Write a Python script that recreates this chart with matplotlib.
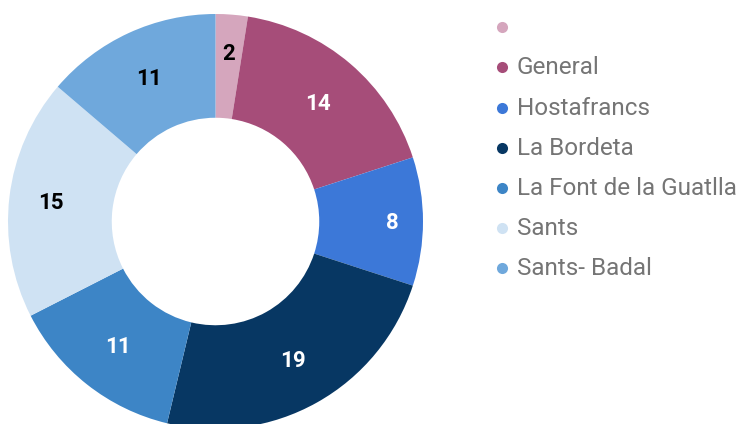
import matplotlib; matplotlib.use("Agg")
import matplotlib.pyplot as plt
import numpy as np

labels = ["", "General", "Hostafrancs", "La Bordeta", "La Font de la Guatlla", "Sants", "Sants- Badal"]
values = [2, 14, 8, 19, 11, 15, 11]
colors = ["#d5a6bd", "#a64d79", "#3c78d8", "#073763", "#3d85c6", "#cfe2f3", "#6fa8dc"]
text_colors = ["#000000", "#ffffff", "#ffffff", "#ffffff", "#ffffff", "#000000", "#000000"]
# radial position of each value label, as a fraction of the outer radius
label_dist = [0.815, 0.757, 0.851, 0.765, 0.758, 0.80, 0.764]

plt.rcParams["font.family"] = ["Roboto", "DejaVu Sans"]

fig = plt.figure(figsize=(7.39, 4.24), dpi=100)
ax = fig.add_axes([0, 0, 1, 1])

# work in pixel units, y pointing up
cx, cy, R = 215.5, 424 - 221.5, 207.5
wedges, _ = ax.pie(
    values, colors=colors, startangle=90, counterclock=False,
    center=(cx, cy), radius=R, wedgeprops=dict(width=R * 0.5, linewidth=0),
)
for w, v, c, d in zip(wedges, values, text_colors, label_dist):
    ang = np.deg2rad((w.theta1 + w.theta2) / 2)
    ax.text(cx + d * R * np.cos(ang), cy + d * R * np.sin(ang) - 1.5, str(v),
            fontsize=16, fontweight="bold", color=c, ha="center", va="center")

# legend drawn as dots + text
leg_y = [26.7, 67.3, 108.3, 147.7, 188.3, 228.3, 268.3]
for lab, col, y in zip(labels, colors, leg_y):
    ax.plot(501.7, 424 - y, "o", color=col, markersize=8, markeredgewidth=0, clip_on=False)
    ax.text(517, 424 - y - 0.5, lab, fontsize=17.5, color="#757575", va="center", ha="left")

ax.set_xlim(0, 739)
ax.set_ylim(0, 424)
ax.set_aspect("equal")
ax.axis("off")
plt.savefig("out.png", dpi=100)
